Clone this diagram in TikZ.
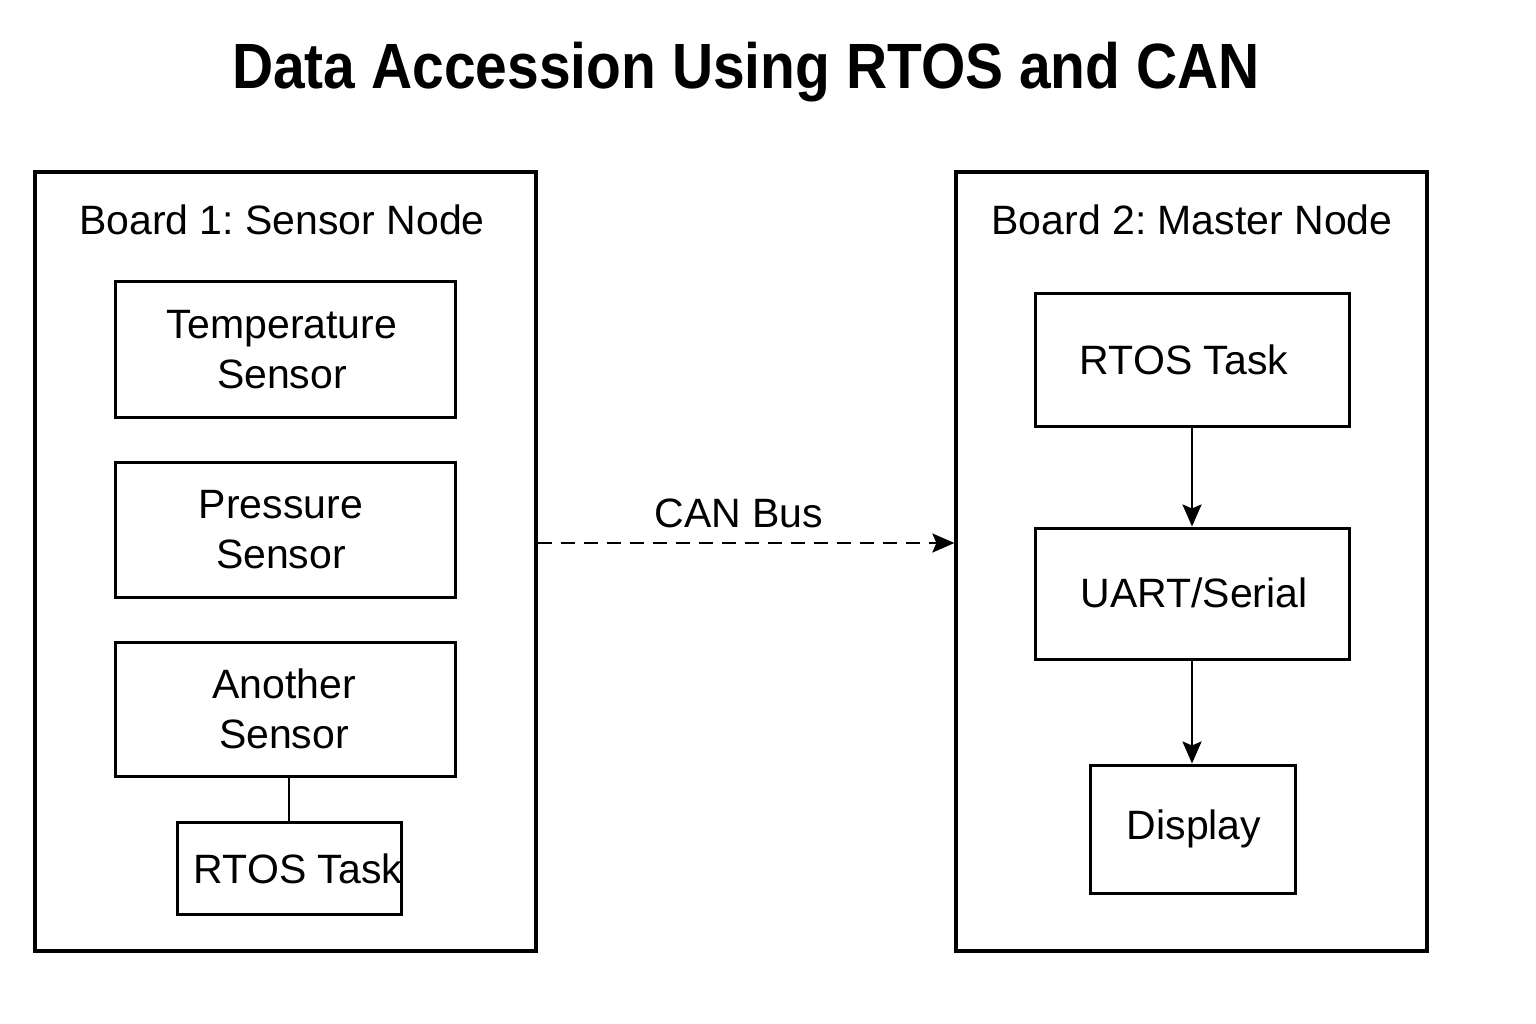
\documentclass[tikz,border=0pt]{standalone}
\usepackage{fontspec}
\setmainfont{Liberation Sans}
\frenchspacing
\usetikzlibrary{arrows.meta,calc}
\begin{document}
\begin{tikzpicture}[x=1pt,y=-1pt,
  board/.style={draw,line width=3.2pt,rectangle,inner sep=0pt},
  box/.style={draw,line width=3pt,rectangle,inner sep=0pt},
  lbl/.style={font=\fontsize{41}{50}\selectfont,align=center,inner sep=0pt},
  conn/.style={line width=2.6pt},
  arr/.style={line width=2.6pt,-{Stealth[length=22pt,width=19pt,inset=4pt]}}]
\useasboundingbox (0,0) rectangle (1536,1024);
\fill[white] (0,0) rectangle (1536,1024);
\node[inner sep=0pt,font=\bfseries\fontsize{64}{70}\selectfont] (title) at (746,72) {\scalebox{0.89}[1]{Data Accession Using RTOS and CAN}};
% left board
\node[board,minimum width=501pt,minimum height=779pt] (b1) at (285.5,561.5) {};
\node[lbl] (b1t) at (282,220) {Board 1: Sensor Node};
\node[box,minimum width=340pt,minimum height=135pt] (temp) at (285,349.5) {};
\node[lbl] (tempt) at (282,350) {Temperature\\Sensor};
\node[box,minimum width=340pt,minimum height=135pt] (pres) at (285,529.5) {};
\node[lbl] (prest) at (281,530) {Pressure\\Sensor};
\node[box,minimum width=340pt,minimum height=134pt] (anot) at (285,709) {};
\node[lbl] (anott) at (284,709) {Another\\Sensor};
\node[box,minimum width=224pt,minimum height=92pt] (rt1) at (289,868) {};
\node[lbl] (rt1t) at (298,869) {RTOS Task};
\draw[conn] (rt1.north) -- (rt1.north |- anot.south);
% right board
\node[board,minimum width=471pt,minimum height=779pt] (b2) at (1191.5,561.5) {};
\node[lbl] (b2t) at (1192,220) {Board 2: Master Node};
\node[box,minimum width=314pt,minimum height=133pt] (rt2) at (1192,359.5) {};
\node[lbl] (rt2t) at (1184,360) {RTOS Task};
\node[box,minimum width=314pt,minimum height=131pt] (uart) at (1192,593.5) {};
\node[lbl] (uartt) at (1194,593) {UART/Serial};
\node[box,minimum width=205pt,minimum height=128pt] (disp) at (1192.5,829) {};
\node[lbl] (dispt) at (1194,829) {Display};
\draw[arr] (rt2.south) -- (uart.north);
\draw[arr] (uart.south) -- (uart.south |- disp.north);
% CAN bus
\coordinate (c1) at (b1.east |- 0,543);
\coordinate (c2) at (b2.west |- 0,543);
\draw[arr,dash pattern=on 14pt off 9pt] (c1) -- (c2);
\node[lbl] (can) at (739,513) {CAN Bus};
\end{tikzpicture}
\end{document}
